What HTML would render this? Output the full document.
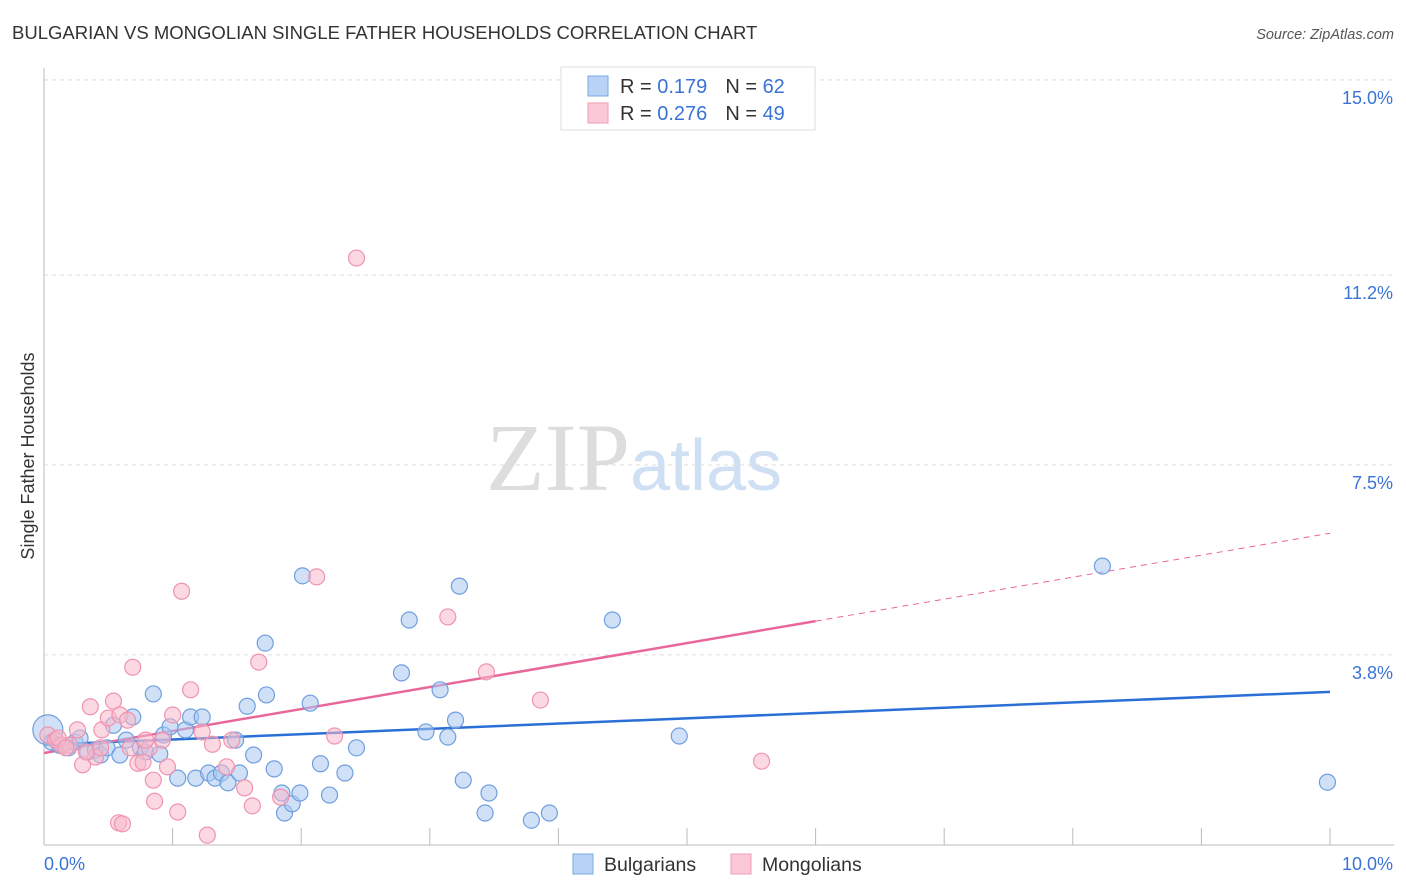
<!DOCTYPE html>
<html><head><meta charset="utf-8"><style>
body{margin:0;background:#fff;font-family:"Liberation Sans",sans-serif}
svg{display:block}
</style></head><body>
<svg id="chart" width="1406" height="892" xmlns="http://www.w3.org/2000/svg">
<text x="12" y="39" font-size="18.5" fill="#333">BULGARIAN VS MONGOLIAN SINGLE FATHER HOUSEHOLDS CORRELATION CHART</text>
<text x="1394" y="39" font-size="14.5" fill="#555" text-anchor="end" font-style="italic">Source: ZipAtlas.com</text>
<text x="634" y="490" font-size="96" font-family="Liberation Serif,serif" fill="#ddd" text-anchor="middle">ZIP<tspan fill="#cfe0f5" font-family="Liberation Sans,sans-serif" font-size="72">atlas</tspan></text>
<g id="grid"></g>
<g id="axes"></g>
<g id="trends"></g>
<g id="points"></g>
<text transform="translate(34,456) rotate(-90)" font-size="18" fill="#333" text-anchor="middle">Single Father Households</text>
<g>
<rect x="561" y="67" width="254" height="63" fill="#fff" stroke="#ddd"/>
<rect x="588" y="76" width="20" height="20" fill="#b8d3f5" stroke="#7aa8e6"/>
<rect x="588" y="103" width="20" height="20" fill="#fbc8d8" stroke="#f09bb6"/>
<text x="620" y="93" font-size="20" fill="#333">R = <tspan fill="#3a73d6">0.179</tspan><tspan dx="18">N = </tspan><tspan fill="#3a73d6">62</tspan></text>
<text x="620" y="120" font-size="20" fill="#333">R = <tspan fill="#3a73d6">0.276</tspan><tspan dx="18">N = </tspan><tspan fill="#3a73d6">49</tspan></text>
</g>
<g>
<rect x="573" y="854" width="20" height="20" fill="#b8d3f5" stroke="#7aa8e6"/>
<text x="604" y="871" font-size="19.5" fill="#333">Bulgarians</text>
<rect x="731" y="854" width="20" height="20" fill="#fbc8d8" stroke="#f09bb6"/>
<text x="762" y="871" font-size="19.5" fill="#333">Mongolians</text>
</g>
</svg>
<script>
const yTicks=[15.0,11.2,7.5,3.8];
const yTickLabels=["15.0%","11.2%","7.5%","3.8%"];
const xTickVals=[0,1,2,3,4,5,6,7,8,9,10];
const bulgX=[0.03,0.06,0.12,0.19,0.24,0.28,0.34,0.40,0.44,0.49,0.54,0.59,0.64,0.69,0.75,0.79,0.85,0.90,0.93,0.98,1.04,1.10,1.14,1.18,1.23,1.28,1.33,1.38,1.43,1.49,1.52,1.58,1.63,1.72,1.73,1.79,1.85,1.87,1.93,1.99,2.01,2.07,2.15,2.22,2.34,2.43,2.78,2.84,2.97,3.08,3.14,3.20,3.23,3.26,3.43,3.46,3.79,3.93,4.42,4.94,8.23,9.98];
const bulgY=[2.34,2.10,2.04,1.99,2.10,2.18,1.91,1.95,1.85,1.99,2.43,1.85,2.14,2.59,1.99,1.91,3.04,1.87,2.24,2.40,1.40,2.34,2.59,1.40,2.59,1.50,1.40,1.50,1.31,2.14,1.50,2.80,1.85,4.03,3.02,1.58,1.11,0.72,0.90,1.11,5.34,2.86,1.68,1.07,1.50,1.99,3.45,4.48,2.30,3.12,2.20,2.53,5.14,1.36,0.72,1.11,0.58,0.72,4.48,2.22,5.53,1.32];
const mongX=[0.03,0.09,0.14,0.20,0.26,0.30,0.36,0.40,0.45,0.50,0.54,0.58,0.61,0.67,0.69,0.73,0.77,0.82,0.85,0.86,0.92,0.96,1.00,1.04,1.07,1.14,1.23,1.27,1.31,1.42,1.46,1.56,1.62,1.67,1.84,2.12,2.26,2.43,3.14,3.44,3.86,5.58,0.11,0.17,0.33,0.44,0.59,0.65,0.79];
const mongY=[2.24,2.14,2.04,2.04,2.34,1.66,2.79,1.81,2.34,2.57,2.90,0.53,0.51,1.99,3.56,1.69,1.71,1.99,1.36,0.95,2.14,1.62,2.63,0.74,5.04,3.12,2.30,0.29,2.06,1.62,2.14,1.21,0.86,3.66,1.03,5.32,2.22,11.53,4.54,3.47,2.92,1.73,2.18,1.99,1.91,1.99,2.63,2.53,2.14];
const bulgTrend=[2.05,3.08];
const mongTrend=[1.89,6.17];
const mongSolidEnd=6.0;
const NS="http://www.w3.org/2000/svg";
const X=v=>44+v*128.6, Y=v=>850-v*51.34;
function mk(p,t,a){const e=document.createElementNS(NS,t);for(const k in a)e.setAttribute(k,a[k]);document.getElementById(p).appendChild(e);return e;}
yTicks.forEach((t,i)=>{
 const l=mk('grid','line',{x1:44,x2:1394,y1:Y(t),y2:Y(t),stroke:'#ddd','stroke-dasharray':'4,4'});
 
 
 const tx=mk('grid','text',{x:1393,y:Y(t)+24,'font-size':18,fill:'#3a73d6','text-anchor':'end'});
 tx.textContent=yTickLabels[i];
 
 
});
const topGrid=mk('grid','line',{x1:44,x2:1394,y1:80,y2:80,stroke:'#ddd','stroke-dasharray':'4,4'});


const ax=mk('axes','line',{x1:44,x2:44,y1:68,y2:845,stroke:'#bbb'});


const bx=mk('axes','line',{x1:44,x2:1394,y1:845,y2:845,stroke:'#bbb'});


xTickVals.forEach(v=>{const t=mk('axes','line',{x1:X(v),x2:X(v),y1:828,y2:845,stroke:'#bbb'});
 
 });
[["0.0%",44,'start'],["10.0%",1393,'end']].forEach(a=>{const t=mk('axes','text',{x:a[1],y:870,'font-size':18,fill:'#3a73d6','text-anchor':a[2]});t.textContent=a[0];
 
 });
function pts(xs,ys,fill,stroke,name){xs.forEach((x,i)=>{const big=i===0&&name==='bulgarian-point';
 const c=mk('points','circle',{cx:X(x),cy:Y(ys[i]),r:big?15:8,fill:fill,'fill-opacity':0.55,stroke:stroke,'stroke-width':1.2});
 
 });}
pts(bulgX,bulgY,'#a9c8f0','#6f9fe0','bulgarian-point');
pts(mongX,mongY,'#f7b8cb','#ef94b0','mongolian-point');
const bl=mk('trends','line',{x1:X(0),y1:Y(bulgTrend[0]),x2:X(10),y2:Y(bulgTrend[1]),stroke:'#2a6fd6','stroke-width':2.5});


const ms=(mongTrend[1]-mongTrend[0])/10, mEnd=mongTrend[0]+ms*mongSolidEnd;
const ml=mk('trends','line',{x1:X(0),y1:Y(mongTrend[0]),x2:X(mongSolidEnd),y2:Y(mEnd),stroke:'#e8679a','stroke-width':2.5});


const md=mk('trends','line',{x1:X(mongSolidEnd),y1:Y(mEnd),x2:X(10),y2:Y(mongTrend[1]),stroke:'#e8679a','stroke-width':1,'stroke-dasharray':'6,5'});


</script>
</body></html>
